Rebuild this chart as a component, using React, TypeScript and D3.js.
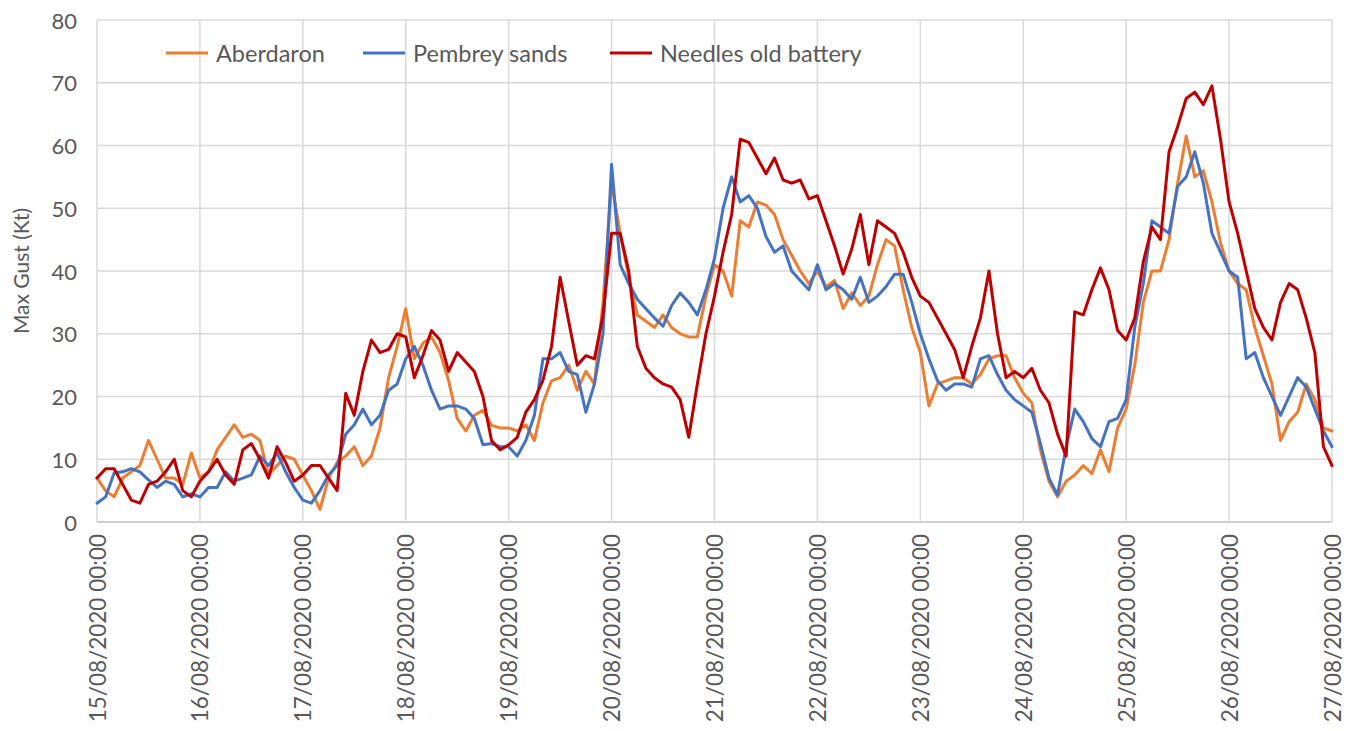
import React from "react";
import * as d3 from "d3";

// Tick labels (one per day, midnight)
const dayLabels = [
  "15/08/2020 00:00", "16/08/2020 00:00", "17/08/2020 00:00", "18/08/2020 00:00",
  "19/08/2020 00:00", "20/08/2020 00:00", "21/08/2020 00:00", "22/08/2020 00:00",
  "23/08/2020 00:00", "24/08/2020 00:00", "25/08/2020 00:00", "26/08/2020 00:00",
  "27/08/2020 00:00",
];
const yTicks = [0, 10, 20, 30, 40, 50, 60, 70, 80];
const hoursPerSample = 2;

// Max gust (kt), sampled every 2 hours from 15/08 00:00 to 27/08 00:00
const aberdaron = [
  7, 5, 4, 7, 8, 9, 13, 10, 7, 7, 6, 11,
  7, 8, 11.5, 13.5, 15.5, 13.5, 14, 13, 7.5, 9, 10.5, 10,
  7.5, 5, 2, 7, 9.5, 10.5, 12, 9, 10.5, 15, 23, 28,
  34, 26, 28.5, 29.5, 27, 22.5, 16.5, 14.5, 17, 17.8, 15.4, 15,
  15, 14.5, 15.5, 13, 19, 22.5, 23, 25, 21, 24, 22, 35,
  54, 46, 39, 33, 32, 31, 33, 31, 30, 29.5, 29.5, 36,
  41, 40, 36, 48, 47, 51, 50.5, 49, 45, 42.5, 40, 38,
  40, 37.5, 38.5, 34, 36.5, 34.5, 36, 41, 45, 44, 37, 31,
  27, 18.5, 22, 22.5, 23, 23, 22, 23.5, 26, 26.5, 26.5, 23,
  20.5, 19, 11.5, 6.5, 4, 6.5, 7.5, 9, 7.7, 11.5, 8, 15,
  18, 25, 35, 40, 40, 45, 54, 61.5, 55, 56, 51, 44.5,
  40, 38, 37, 31, 26.5, 22, 13, 16, 17.5, 22, 19.5, 15,
  14.5,
];
const pembrey = [
  3, 4, 7.8, 8, 8.5, 8, 6.7, 5.5, 6.5, 6, 4, 4.5,
  4, 5.5, 5.5, 8, 6.5, 7, 7.5, 10.5, 9, 11, 8, 5.5,
  3.5, 3, 5, 7.5, 9, 14, 15.5, 18, 15.5, 17, 21, 22,
  26, 28, 25, 21, 18, 18.5, 18.5, 18, 16.5, 12.3, 12.5, 12,
  12, 10.5, 13, 17, 26, 26, 27, 24, 23.5, 17.5, 22, 30,
  57, 41, 38, 35.5, 34, 32.5, 31.2, 34.5, 36.5, 35, 33, 37,
  42, 50, 55, 51, 52, 50, 45.5, 43, 44, 40, 38.5, 37,
  41, 37, 38, 37, 35.5, 39, 35, 36, 37.5, 39.5, 39.5, 35,
  30, 26, 22.5, 21, 22, 22, 21.5, 26, 26.5, 23.5, 21, 19.5,
  18.5, 17.5, 12.5, 7, 4.3, 12, 18, 16, 13.3, 12, 16, 16.5,
  19.5, 31, 38, 48, 47, 46, 53.5, 55, 59, 54, 46, 43,
  40, 39, 26, 27, 23, 20, 17, 20, 23, 21.5, 18, 14.5,
  12,
];
const needles = [
  7, 8.5, 8.5, 6, 3.5, 3, 6, 6.5, 8, 10, 5, 4,
  6.5, 8, 10, 7.5, 6, 11.5, 12.5, 10, 7, 12, 9.5, 6.5,
  7.5, 9, 9, 7, 5, 20.5, 17, 24, 29, 27, 27.5, 30,
  29.5, 23, 26.5, 30.5, 29, 24, 27, 25.5, 24, 20, 13, 11.5,
  12.3, 13.5, 17.5, 19.5, 22.6, 28, 39, 32, 25, 26.5, 26, 33,
  46, 46, 40, 28, 24.5, 23, 22, 21.5, 19.5, 13.5, 22, 30,
  36, 43, 49, 61, 60.5, 58, 55.5, 58, 54.5, 54, 54.5, 51.5,
  52, 48, 44, 39.5, 43.5, 49, 41, 48, 47, 46, 43, 39,
  36, 35, 32.5, 30, 27.5, 23, 28, 32.5, 40, 30, 23, 24,
  23, 24.5, 21, 19, 14, 10.5, 33.5, 33, 37, 40.5, 37, 30.5,
  29, 32.5, 41.5, 47, 45, 59, 63, 67.5, 68.5, 66.5, 69.5, 61,
  51, 46, 40, 34, 31, 29, 35, 38, 37, 32.5, 27, 12,
  9,
];

const seriesNames = ["Aberdaron", "Pembrey sands", "Needles old battery"];
const seriesColors = ["#ED7D31", "#4472C4", "#C00000"];
const seriesData = [aberdaron, pembrey, needles];

const W = 1359;
const H = 731;
const M = { left: 97, right: 27, top: 20, bottom: 209 };
const FONT = "Lato, 'Open Sans', sans-serif";

export default function App() {
  const totalHours = (dayLabels.length - 1) * 24;
  const x = d3.scaleLinear().domain([0, totalHours]).range([M.left, W - M.right]);
  const y = d3.scaleLinear().domain([0, 80]).range([H - M.bottom, M.top]);
  const line = d3
    .line<number>()
    .x((_, i) => x(i * hoursPerSample))
    .y((d) => y(d));

  const legendX = [166, 363, 610];
  const legendY = 53;

  return (
    <svg
      width={W}
      height={H}
      style={{ position: "fixed", left: 0, top: 0, background: "#fff" }}
      fontFamily={FONT}
    >
      <rect x={0} y={0} width={W} height={H} fill="#fff" />
      {/* horizontal grid */}
      {yTicks.map((t) => (
        <line key={"h" + t} x1={x(0)} x2={x(totalHours)} y1={y(t)} y2={y(t)}
          stroke={t === 0 ? "#bfbfbf" : "#d9d9d9"} strokeWidth={1.5} />
      ))}
      {/* vertical grid */}
      {dayLabels.map((_, i) => (
        <line key={"v" + i} x1={x(i * 24)} x2={x(i * 24)} y1={y(80)} y2={y(0)}
          stroke="#d9d9d9" strokeWidth={1.5} />
      ))}
      {/* y tick labels */}
      {yTicks.map((t) => (
        <text key={"yl" + t} x={x(0) - 20} y={y(t)} textAnchor="end"
          dominantBaseline="central" fontSize={22} fill="#595959">{t}</text>
      ))}
      {/* x tick labels */}
      {dayLabels.map((lab, i) => (
        <text key={"xl" + i} transform={`translate(${x(i * 24)},${y(0) + 12}) rotate(-90)`}
          textAnchor="end" dominantBaseline="central" fontSize={22.5} fill="#595959">{lab}</text>
      ))}
      {/* y axis title */}
      <text transform={`translate(20,${(y(0) + y(80)) / 2}) rotate(-90)`} textAnchor="middle"
        dominantBaseline="central" fontSize={21} fill="#595959">Max Gust (Kt)</text>
      {/* series */}
      {seriesData.map((d, i) => (
        <path key={"s" + i} d={line(d) || ""} fill="none" stroke={seriesColors[i]}
          strokeWidth={3} strokeLinejoin="round" strokeLinecap="round" />
      ))}
      {/* legend */}
      {seriesNames.map((n, i) => (
        <g key={"lg" + i}>
          <line x1={legendX[i]} x2={legendX[i] + 42} y1={legendY} y2={legendY}
            stroke={seriesColors[i]} strokeWidth={3} />
          <text x={legendX[i] + 50} y={legendY} dominantBaseline="central" fontSize={23.5}
            fill="#595959">{n}</text>
        </g>
      ))}
    </svg>
  );
}
